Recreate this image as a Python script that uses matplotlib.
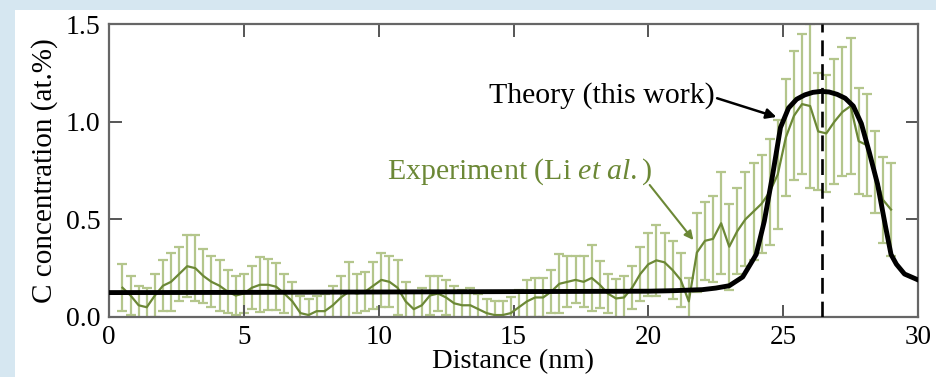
import numpy as np
import matplotlib.pyplot as plt
from matplotlib.patches import Rectangle

# experiment (Li et al.), sampled every 0.3 nm
exp_x = np.round(np.arange(0.5, 29.01, 0.3), 2)
exp_y = [0.15, 0.11, 0.06, 0.05, 0.11, 0.16, 0.18, 0.22, 0.26, 0.25,
         0.21, 0.18, 0.16, 0.13, 0.11, 0.12, 0.15, 0.165, 0.165, 0.155,
         0.12, 0.08, 0.02, 0.01, 0.03, 0.03, 0.06, 0.10, 0.13, 0.12,
         0.13, 0.16, 0.19, 0.18, 0.15, 0.08, 0.04, 0.06, 0.11, 0.12,
         0.10, 0.07, 0.06, 0.06, 0.04, 0.02, 0.01, 0.01, 0.02, 0.05,
         0.08, 0.10, 0.10, 0.13, 0.17, 0.18, 0.19, 0.18, 0.20, 0.165,
         0.12, 0.095, 0.10, 0.15, 0.22, 0.27, 0.29, 0.28, 0.24, 0.19,
         0.08, 0.33, 0.39, 0.40, 0.48, 0.36, 0.44, 0.50, 0.54, 0.58,
         0.64, 0.73, 0.92, 1.03, 1.09, 1.08, 0.95, 0.94, 1.00, 1.05,
         1.08, 0.90, 0.88, 0.74, 0.60, 0.55]
exp_err = [0.12, 0.10, 0.10, 0.10, 0.11, 0.13, 0.15, 0.14, 0.16, 0.17,
           0.14, 0.13, 0.13, 0.11, 0.10, 0.10, 0.11, 0.14, 0.13, 0.12,
           0.10, 0.10, 0.09, 0.08, 0.08, 0.09, 0.10, 0.11, 0.15, 0.10,
           0.10, 0.12, 0.14, 0.13, 0.14, 0.10, 0.09, 0.09, 0.10, 0.09,
           0.09, 0.09, 0.08, 0.09, 0.08, 0.07, 0.07, 0.07, 0.08, 0.09,
           0.11, 0.10, 0.10, 0.11, 0.15, 0.13, 0.12, 0.13, 0.17, 0.12,
           0.10, 0.10, 0.11, 0.11, 0.14, 0.16, 0.18, 0.15, 0.15, 0.14,
           0.12, 0.20, 0.20, 0.22, 0.26, 0.22, 0.22, 0.24, 0.25, 0.25,
           0.27, 0.28, 0.30, 0.33, 0.36, 0.42, 0.30, 0.30, 0.32, 0.33,
           0.35, 0.27, 0.26, 0.21, 0.22, 0.24]

# theory (this work)
th_x = [0, 5, 10, 15, 20, 21, 22, 22.5, 23, 23.5, 24, 24.3, 24.6, 24.9,
        25.2, 25.5, 25.8, 26.1, 26.4, 26.7, 27.0, 27.3, 27.6, 27.9, 28.2,
        28.5, 28.8, 29.0, 29.2, 29.5, 30]
th_y = [0.125, 0.126, 0.128, 0.13, 0.132, 0.135, 0.14, 0.148, 0.16, 0.205,
        0.32, 0.49, 0.72, 0.97, 1.07, 1.115, 1.137, 1.15, 1.155, 1.152,
        1.14, 1.12, 1.08, 0.99, 0.84, 0.68, 0.46, 0.32, 0.27, 0.22, 0.19]

peak_x = 26.45

green = '#6c8836'
green_light = '#b4c68c'

plt.rcParams['font.family'] = ['Liberation Serif', 'DejaVu Serif']
plt.rcParams['mathtext.fontset'] = 'custom'
plt.rcParams['mathtext.rm'] = 'Liberation Serif'
plt.rcParams['mathtext.it'] = 'Liberation Serif:italic'

fig = plt.figure(figsize=(9.36, 3.77), dpi=100)
fig.patch.set_facecolor('#d6e7f1')
fig.patches.append(Rectangle((15 / 936, 0), 1, 1 - 10 / 377, transform=fig.transFigure,
                             facecolor='white', edgecolor='none', zorder=-1))

ax = fig.add_axes([109 / 936, 60 / 377, 809 / 936, 293 / 377])
ax.set_facecolor('white')

ax.errorbar(exp_x, exp_y, yerr=exp_err, fmt='none', ecolor=green_light,
            elinewidth=1.6, capsize=3.5, capthick=1.6, zorder=1)
ax.plot(exp_x, exp_y, color=green, lw=1.6, zorder=2)
ax.plot(th_x, th_y, color='black', lw=3.5, zorder=3)
ax.axvline(peak_x, color='black', lw=1.9, dashes=(6, 3), zorder=4)

# labels and arrows
ax.text(14.1, 1.096, 'Theory (this work)', fontsize=21.5, color='black')
ax.annotate('', xy=(24.75, 1.024), xytext=(22.55, 1.12),
            arrowprops=dict(arrowstyle='-|>', color='black', lw=1.8,
                            mutation_scale=15, shrinkA=0, shrinkB=0))
ax.text(10.3, 0.71, 'Experiment (Li $\\it{et\\ al.}$)', fontsize=21.5, color=green)
ax.annotate('', xy=(21.67, 0.394), xytext=(20.05, 0.676),
            arrowprops=dict(arrowstyle='-|>', color=green, lw=1.5,
                            mutation_scale=13, shrinkA=0, shrinkB=0))

ax.set_xlim(0, 30)
ax.set_ylim(0, 1.5)
ax.set_xticks([0, 5, 10, 15, 20, 25, 30])
ax.set_yticks([0.0, 0.5, 1.0, 1.5])
ax.set_yticklabels(['0.0', '0.5', '1.0', '1.5'])
ax.tick_params(direction='in', top=True, right=True, length=9, width=1.4,
               color='#555555', labelsize=20)
ax.tick_params(axis='x', pad=6, labelsize=19.5)
ax.tick_params(axis='y', pad=6)
for s in ax.spines.values():
    s.set_color('#666666')
    s.set_linewidth(1.6)

ax.set_xlabel('Distance (nm)', fontsize=20.5, labelpad=-1)
ax.set_ylabel('C concentration (at.%)', fontsize=21, labelpad=6)

fig.savefig('out.png', dpi=100, facecolor=fig.get_facecolor())
